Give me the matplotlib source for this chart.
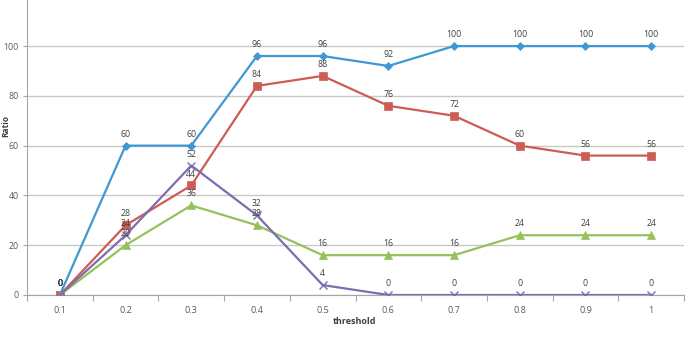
import numpy as np
import matplotlib
matplotlib.use('Agg')
import matplotlib.pyplot as plt

thresholds = ['0.1', '0.2', '0.3', '0.4', '0.5', '0.6', '0.7', '0.8', '0.9', '1']
blue_vals = [0, 60, 60, 96, 96, 92, 100, 100, 100, 100]
red_vals = [0, 28, 44, 84, 88, 76, 72, 60, 56, 56]
green_vals = [0, 20, 36, 28, 16, 16, 16, 24, 24, 24]
purple_vals = [0, 24, 52, 32, 4, 0, 0, 0, 0, 0]

plt.rcParams['font.family'] = ['Open Sans', 'DejaVu Sans']

fig = plt.figure(figsize=(6.96, 3.5), dpi=100)
ax = fig.add_axes([27 / 696, 1 - 295 / 350, (684 - 27) / 696, 295 / 350])

x = np.arange(len(thresholds))
series = [
    (blue_vals, '#3f97d5', 'D', 4),
    (red_vals, '#cd5c57', 's', 5.5),
    (green_vals, '#96c15a', '^', 5.5),
    (purple_vals, '#7f6bb0', 'x', 5.5),
]
for vals, col, mk, ms in series:
    ax.plot(x, vals, color=col, lw=1.6, marker=mk, markersize=ms,
            markeredgewidth=1 if mk == 'x' else 0.5, zorder=3)
    for xi, v in zip(x, vals):
        ax.annotate(str(v), (xi, v), xytext=(0, 5), textcoords='offset points',
                    ha='center', va='bottom', fontsize=6.3, color='#404040', zorder=4)

ax.set_xlim(-0.5, len(thresholds) - 0.5)
ax.set_ylim(0, 118.5)
ax.set_yticks([0, 20, 40, 60, 80, 100])
ax.yaxis.grid(True, color='#c8c8c8', lw=1)
ax.set_axisbelow(True)

ax.set_xticks(np.arange(-0.5, len(thresholds)), labels=[])
ax.set_xticks(x, labels=thresholds, minor=True)
ax.tick_params(axis='x', which='major', length=4, color='#a6a6a6', direction='out')
ax.tick_params(axis='x', which='minor', length=0, pad=8, labelsize=6.5, labelcolor='#595959')
ax.tick_params(axis='y', length=3, color='#a6a6a6', pad=3, labelsize=6.3, labelcolor='#595959')

for s in ['top', 'right']:
    ax.spines[s].set_visible(False)
for s in ['left', 'bottom']:
    ax.spines[s].set_color('#a6a6a6')

fig.text(355 / 696, 1 - 322 / 350, 'threshold', ha='center', va='center',
         fontsize=6.5, fontweight='bold', color='#404040')
fig.text(1 / 696, 1 - 126 / 350, 'Ratio', ha='left', va='center', rotation=90,
         fontsize=6, fontweight='bold', color='#404040')

fig.savefig('out.png', dpi=100)
